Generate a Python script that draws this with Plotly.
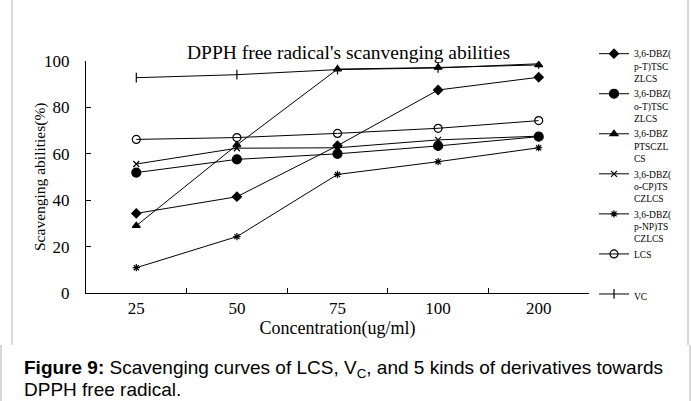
import plotly.graph_objects as go

concentrations = ["25", "50", "75", "100", "200"]
names = [
    "3,6-DBZ(<br>p-T)TSC<br>ZLCS",
    "3,6-DBZ(<br>o-T)TSC<br>ZLCS",
    "3,6-DBZ<br>PTSCZL<br>CS",
    "3,6-DBZ(<br>o-CP)TS<br>CZLCS",
    "3,6-DBZ(<br>p-NP)TS<br>CZLCS",
    "LCS<br> <br> ",
    "VC",
]
pT = [34.3, 41.5, 63.5, 87.5, 93.0]
oT = [51.9, 57.6, 60.0, 63.4, 67.4]
PTSC = [29.0, 63.8, 96.5, 97.2, 98.3]
oCP = [55.6, 62.4, 62.6, 66.0, 67.6]
pNP = [10.9, 24.3, 51.1, 56.6, 62.6]
LCS = [66.2, 67.0, 68.8, 71.0, 74.3]
VC = [92.8, 94.1, 96.3, 97.0, 98.8]
series = [pT, oT, PTSC, oCP, pNP, LCS, VC]
symbols = ["diamond", "circle", "triangle-up", "x-thin-open", "asterisk-open", "circle-open", "line-ns-open"]
sizes = [7, 9, 7, 6, 6, 8, 7]

fig = go.Figure()
for nm, ys, sym, sz in zip(names, series, symbols, sizes):
    fig.add_trace(go.Scatter(
        x=concentrations, y=ys, name=nm, mode="lines+markers",
        line=dict(color="black", width=1),
        marker=dict(symbol=sym, size=sz, color="black", line=dict(color="black", width=1.2)),
    ))

W, H = 691, 401
L, R, T, B = 86, 102, 61, 108
PW, PH = W - L - R, H - T - B


def px(xp):
    return (xp - L) / PW


def py(yp):
    return (H - B - yp) / PH


fig.update_layout(
    width=W, height=H,
    margin=dict(l=L, r=R, t=T, b=B),
    paper_bgcolor="white", plot_bgcolor="white",
    font=dict(family="Liberation Serif, Times New Roman, serif", color="black"),
    showlegend=True,
    legend=dict(
        x=px(594), y=py(41), xanchor="left", yanchor="top",
        font=dict(size=9.5, family="Liberation Serif", color="black"),
        valign="top", itemwidth=30, tracegroupgap=0, maxheight=1,
        bgcolor="rgba(0,0,0,0)",
    ),
    xaxis=dict(
        type="category", range=[-0.5, 4.5],
        showline=True, linecolor="black", linewidth=1,
        ticks="inside", tickson="boundaries", ticklen=5, tickcolor="black",
        tickfont=dict(size=17, family="Liberation Serif"),
        showgrid=False, zeroline=False,
        title=dict(text="Concentration(ug/ml)", font=dict(size=18, family="Liberation Serif"), standoff=2),
    ),
    yaxis=dict(
        range=[0, 100], tickvals=[0, 20, 40, 60, 80, 100],
        showline=True, linecolor="black", linewidth=1,
        ticks="inside", ticklen=5, tickcolor="black", ticklabelstandoff=12,
        tickfont=dict(size=17, family="Liberation Serif"),
        showgrid=False, zeroline=False,
    ),
)

fig.add_annotation(
    text="Scavenging abilities(%)",
    x=px(40), y=py(177), xref="paper", yref="paper",
    xanchor="center", yanchor="middle", showarrow=False, textangle=-90,
    font=dict(size=15.5, family="Liberation Serif", color="black"),
)

fig.add_annotation(
    text="DPPH free radical's scanvenging abilities",
    x=px(348), y=py(53), xref="paper", yref="paper",
    xanchor="center", yanchor="middle", showarrow=False,
    font=dict(size=19.5, family="Liberation Serif", color="black"),
)

fig.add_annotation(
    text="<b>Figure 9:</b> Scavenging curves of LCS, V<sub>C</sub>, and 5 kinds of derivatives towards",
    x=px(22), y=py(369), xref="paper", yref="paper",
    xanchor="left", yanchor="middle", align="left", showarrow=False,
    font=dict(size=19, family="Liberation Sans, Arial, sans-serif", color="black"),
)
fig.add_annotation(
    text="DPPH free radical.",
    x=px(22), y=py(389), xref="paper", yref="paper",
    xanchor="left", yanchor="middle", align="left", showarrow=False,
    font=dict(size=19, family="Liberation Sans, Arial, sans-serif", color="black"),
)

# frame lines
for x0 in [12, 688]:
    fig.add_shape(type="line", xref="paper", yref="paper",
                  x0=px(x0), x1=px(x0), y0=py(345), y1=py(0),
                  line=dict(color="#b0b0b0", width=1))
for x0 in [1, 690]:
    fig.add_shape(type="line", xref="paper", yref="paper",
                  x0=px(x0), x1=px(x0), y0=py(401), y1=py(345),
                  line=dict(color="#b0b0b0", width=1))

fig.write_html("out.html")
